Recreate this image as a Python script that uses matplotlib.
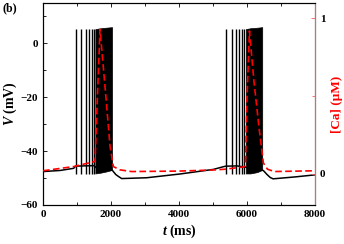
import matplotlib
matplotlib.use("Agg")
import matplotlib.pyplot as plt
from matplotlib.ticker import MultipleLocator

# ---- data ----
# slow membrane potential baseline (ms, mV)
base_t = [0, 500, 900, 960, 1200, 1500, 1545, 1800, 2030, 2068, 2140, 2216, 2313,
          3049, 4029, 5010, 5304, 5370, 5700, 5965, 6200, 6450, 6500, 6578, 6680,
          6765, 7400, 7940, 8000]
base_v = [-47.6, -47.2, -46.4, -45.6, -45.5, -45.4, -46.0, -47.0, -47.0, -47.6, -48.7,
          -49.4, -50.2, -49.9, -48.5, -46.8, -45.8, -45.6, -45.5, -46.0, -47.0, -47.0,
          -47.5, -48.6, -49.8, -50.3, -49.6, -48.9, -48.8]

# isolated spikes at the start of each burst (ms)
spikes_1 = [970, 1118, 1265, 1353, 1441, 1500]
spikes_2 = [5382, 5559, 5676, 5765, 5853, 5912]
spike_peak = 5.5
spike_trough = -48.5

# dense spiking bands (envelope)
dense1_t = [1540, 1700, 1850, 2030]
dense1_top = [5.3, 5.6, 5.8, 6.0]
dense1_bot = [-48.3, -48.0, -47.6, -47.0]
dense2_t = [5965, 6100, 6300, 6445]
dense2_top = [5.3, 5.6, 5.8, 6.0]
dense2_bot = [-48.3, -48.3, -47.8, -47.0]

# calcium concentration (ms, uM)
ca_t = [0, 900, 1530, 1600, 1676, 1824, 1970, 2068, 2260, 2600, 4000, 5000, 5350,
        5900, 5950, 6000, 6070, 6200, 6350, 6480, 6600, 6800, 8000]
ca = [0.02, 0.047, 0.08, 0.5, 0.93, 0.56, 0.18, 0.047, 0.026, 0.015, 0.018, 0.025,
      0.03, 0.045, 0.05, 0.5, 0.92, 0.6, 0.3, 0.07, 0.03, 0.015, 0.02]

plt.rcParams['font.family'] = ['Liberation Serif', 'DejaVu Serif']
plt.rcParams['mathtext.fontset'] = 'custom'
plt.rcParams['mathtext.it'] = 'Liberation Serif:italic:bold'
plt.rcParams['mathtext.rm'] = 'Liberation Serif:bold'

fig = plt.figure(figsize=(3.44, 2.44), dpi=100)
ax = fig.add_axes([0.125, 0.16, 0.791, 0.828])

ax.plot(base_t, base_v, color='black', lw=1.1, zorder=2)
ax.vlines(spikes_1 + spikes_2, spike_trough, spike_peak, color='black', lw=1.0, zorder=2)
ax.fill_between(dense1_t, dense1_bot, dense1_top, color='black', lw=0.5, zorder=2)
ax.fill_between(dense2_t, dense2_bot, dense2_top, color='black', lw=0.5, zorder=2)

ax.set_xlim(0, 8000)
ax.set_ylim(-60, 15)
ax.xaxis.set_major_locator(MultipleLocator(2000))
ax.xaxis.set_minor_locator(MultipleLocator(1000))
ax.yaxis.set_major_locator(MultipleLocator(20))
ax.yaxis.set_minor_locator(MultipleLocator(10))
ax.tick_params(which='both', direction='in', top=True, right=False, labelsize=8)
ax.tick_params(which='major', length=3, width=0.6)
ax.tick_params(which='minor', length=2, width=0.6)
for lab in ax.get_xticklabels() + ax.get_yticklabels():
    lab.set_fontweight('bold')
ax.set_xlabel(r'$t$ (ms)', fontsize=10, fontweight='bold', labelpad=3)
ax.set_ylabel(r'$V$ (mV)', fontsize=10, fontweight='bold', labelpad=1)
for s in ax.spines.values():
    s.set_linewidth(0.8)

ax2 = ax.twinx()
ax2.plot(ca_t, ca, color='red', lw=1.2, ls=(0, (4, 2)), zorder=3)
ax2.set_ylim(-0.2, 1.1)
ax2.yaxis.set_major_locator(MultipleLocator(1))
ax2.yaxis.set_minor_locator(MultipleLocator(0.5))
ax2.tick_params(which='both', direction='in', colors='#f06060', labelcolor='black', labelsize=8, width=0.6)
ax2.tick_params(which='major', length=3)
ax2.tick_params(which='minor', length=2)
for lab in ax2.get_yticklabels():
    lab.set_fontweight('bold')
ax2.spines['right'].set_color('#f06060')
ax2.spines['right'].set_linewidth(0.8)
ax2.set_ylabel('[Ca] (μM)', color='red', fontsize=9.5, fontweight='bold', labelpad=4)

fig.text(0.006, 0.955, '(b)', fontsize=8.5, fontweight='bold')

fig.savefig('out.png', dpi=100)
